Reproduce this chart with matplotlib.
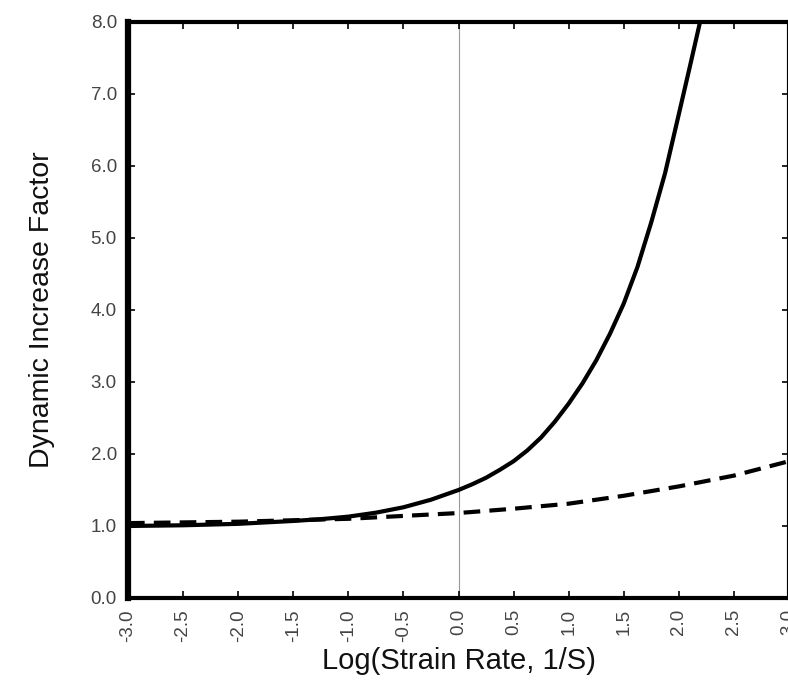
import matplotlib
matplotlib.use('Agg')
import matplotlib.pyplot as plt

# values
solid_x = [-3.0, -2.5, -2.0, -1.5, -1.25, -1.0, -0.75, -0.5, -0.25, 0.0,
           0.125, 0.25, 0.375, 0.5, 0.625, 0.75, 0.875, 1.0, 1.125, 1.25,
           1.375, 1.5, 1.625, 1.75, 1.875, 2.0, 2.1, 2.2]
solid_y = [1.00, 1.01, 1.03, 1.07, 1.095, 1.13, 1.185, 1.26, 1.365, 1.50,
           1.58, 1.67, 1.78, 1.90, 2.05, 2.23, 2.45, 2.70, 2.98, 3.30,
           3.67, 4.09, 4.60, 5.22, 5.90, 6.72, 7.38, 8.05]
dash_x = [-3.0, -2.5, -2.0, -1.5, -1.0, -0.5, 0.0, 0.5, 1.0, 1.5, 2.0, 2.5, 3.0]
dash_y = [1.04, 1.05, 1.06, 1.08, 1.10, 1.14, 1.18, 1.24, 1.31, 1.42, 1.55, 1.70, 1.90]

xticks = [-3.0, -2.5, -2.0, -1.5, -1.0, -0.5, 0.0, 0.5, 1.0, 1.5, 2.0, 2.5, 3.0]
yticks = [0.0, 1.0, 2.0, 3.0, 4.0, 5.0, 6.0, 7.0, 8.0]

plt.rcParams['font.family'] = ['Liberation Sans', 'DejaVu Sans']

fig = plt.figure(figsize=(7.88, 6.85), dpi=100)
ax = fig.add_axes([128/788, 87/685, 661/788, 576/685])

ax.axvline(0.0, color='#999999', lw=0.8, zorder=1)
ax.plot(solid_x, solid_y, color='black', lw=3.0, solid_joinstyle='round', zorder=3)
ax.plot(dash_x, dash_y, color='black', lw=3.0, dashes=(4, 2.2), zorder=3)

ax.set_xlim(-3, 3)
ax.set_ylim(0, 8)
ax.set_xticks(xticks)
ax.set_yticks(yticks)
ax.set_xticklabels(['%.1f' % v for v in xticks], rotation=90, color='#444444', fontsize=13.5)
ax.set_yticklabels(['%.1f' % v for v in yticks], color='#444444', fontsize=13.5)
ax.tick_params(direction='in', length=5, width=1.2, top=True, right=True)
ax.tick_params(axis='x', pad=8)
ax.tick_params(axis='y', pad=8)

ax.spines['left'].set_linewidth(4.5)
ax.spines['bottom'].set_linewidth(3.0)
ax.spines['top'].set_linewidth(3.0)
ax.spines['right'].set_linewidth(3.0)

ax.set_xlabel('Log(Strain Rate, 1/S)', fontsize=21, labelpad=4, color='#111111')
ax.set_ylabel('Dynamic Increase Factor', fontsize=20.5, labelpad=26, color='#111111')

fig.savefig('out.png', dpi=100)
